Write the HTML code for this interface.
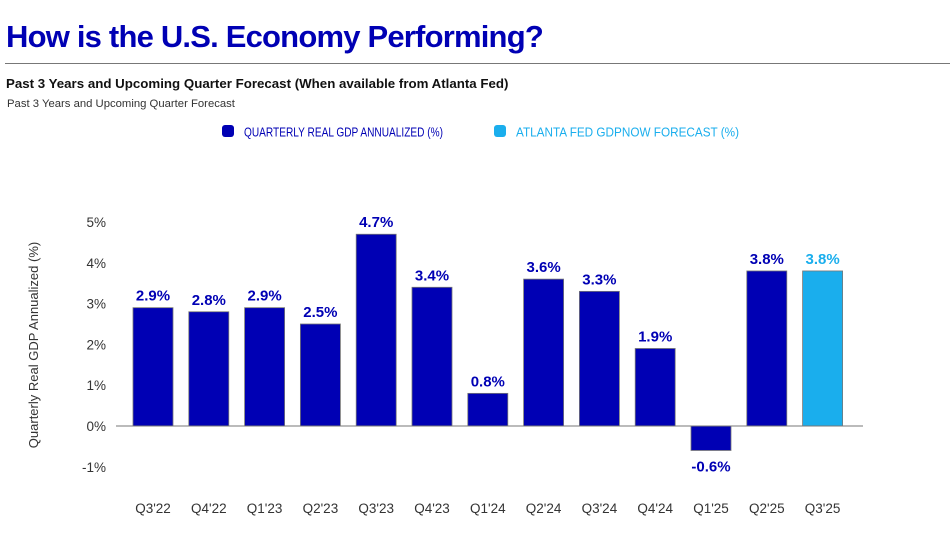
<!DOCTYPE html>
<html><head><meta charset="utf-8"><style>
body{margin:0;width:950px;height:560px;background:#fff;font-family:"Liberation Sans",sans-serif;overflow:hidden;position:relative}
.t{position:absolute;white-space:nowrap}
</style></head><body>
<div class="t" style="left:6px;top:19px;font-size:31px;font-weight:bold;color:#0000b4;letter-spacing:-0.8px">How is the U.S. Economy Performing?</div>
<div style="position:absolute;left:5px;top:63px;width:945px;height:1px;background:#777"></div>
<div class="t" style="left:6px;top:76px;font-size:13.3px;font-weight:bold;color:#111">Past 3 Years and Upcoming Quarter Forecast (When available from Atlanta Fed)</div>
<div class="t" style="left:7px;top:98px;font-size:11.3px;color:#333">Past 3 Years and Upcoming Quarter Forecast</div>
<svg width="950" height="560" style="position:absolute;left:0;top:0" id="chart" font-family="Liberation Sans, sans-serif">
<g>
<rect x="222" y="125" width="12" height="12" rx="3" fill="#0000b4"/>
<text x="244" y="136.5" font-size="13" fill="#0000b4" textLength="199" lengthAdjust="spacingAndGlyphs">QUARTERLY REAL GDP ANNUALIZED (%)</text>
<rect x="494" y="125" width="12" height="12" rx="3" fill="#1aaeed"/>
<text x="516" y="136.5" font-size="13" fill="#1aaeed" textLength="223" lengthAdjust="spacingAndGlyphs">ATLANTA FED GDPNOW FORECAST (%)</text>
</g>
<text transform="translate(38,345) rotate(-90)" text-anchor="middle" font-size="13" fill="#333">Quarterly Real GDP Annualized (%)</text>
<g id="g"></g>
</svg>
<script>
const categories=["Q3'22","Q4'22","Q1'23","Q2'23","Q3'23","Q4'23","Q1'24","Q2'24","Q3'24","Q4'24","Q1'25","Q2'25","Q3'25"];
const values=[2.9,2.8,2.9,2.5,4.7,3.4,0.8,3.6,3.3,1.9,-0.6,3.8,3.8];
const isForecast=[false,false,false,false,false,false,false,false,false,false,false,false,true];
const yTicks=[-1,0,1,2,3,4,5];
const NS="http://www.w3.org/2000/svg";
const g=document.getElementById('g');
const y=v=>426-v*40.8;
const x=i=>153+i*55.8;
function mk(t,a,txt){const e=document.createElementNS(NS,t);for(const k in a)e.setAttribute(k,a[k]);if(txt!=null)e.textContent=txt;g.appendChild(e);return e;}
yTicks.forEach(v=>{
const e=mk('text',{x:106,y:y(v)+5,'text-anchor':'end','font-size':13.5,fill:'#333'},v+'%');


});
values.forEach((v,i)=>{
const c=isForecast[i]?'#1aaeed':'#0000b4';
const top=Math.min(y(v),y(0)),h=Math.abs(y(v)-y(0));
const r=mk('rect',{x:x(i)-20,y:top,width:40,height:h,fill:c,stroke:'#777','stroke-width':0.8});


const ly=v>=0?y(v)-7:y(v)+21;
const l=mk('text',{x:x(i),y:ly,'text-anchor':'middle','font-size':15,'font-weight':'bold',fill:c},v.toFixed(1)+'%');


const xl=mk('text',{x:x(i),y:513,'text-anchor':'middle','font-size':13.5,fill:'#333'},categories[i]);


});
const z=mk('line',{x1:116,x2:863,y1:y(0),y2:y(0),stroke:'#777','stroke-width':1});


</script>
</body></html>
